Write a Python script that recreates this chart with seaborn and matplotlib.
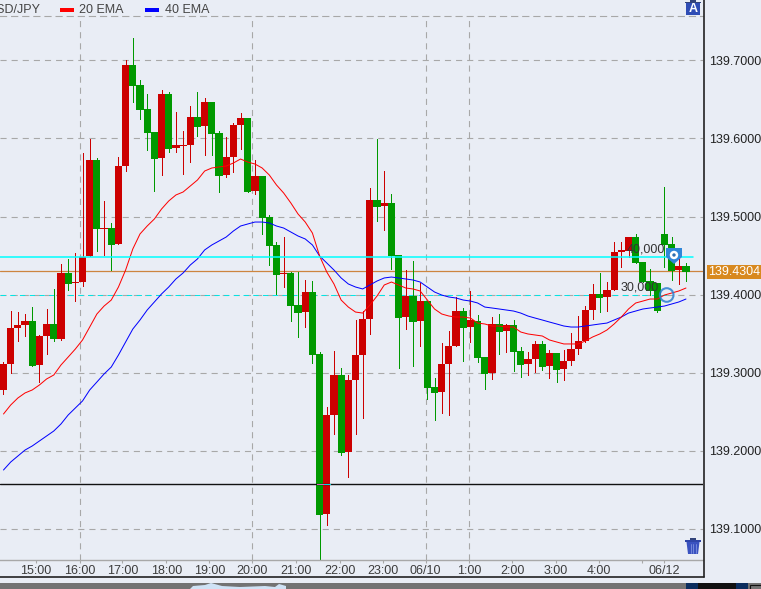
import pandas as pd
import matplotlib
matplotlib.use("Agg")
import matplotlib.pyplot as plt
from matplotlib.patches import Circle, Polygon, Rectangle
import seaborn as sns

# --- candles, 10 minute bars ---
opens = [139.2776, 139.3109, 139.3570, 139.3609, 139.3660, 139.3096, 139.3468, 139.3622, 139.3430, 139.4276,
         139.4148, 139.4160, 139.4494, 139.5724, 139.4840, 139.4852, 139.4648, 139.5647, 139.6942, 139.6686,
         139.6379, 139.6083, 139.5750, 139.6571, 139.5878, 139.5904, 139.5917, 139.6275, 139.6160, 139.6468,
         139.6070, 139.5532, 139.5763, 139.6173, 139.6262, 139.5327, 139.5519, 139.4993, 139.4635, 139.4263,
         139.4276, 139.3865, 139.3775, 139.4032, 139.3237, 139.1186, 139.2455, 139.2968, 139.1980, 139.2904,
         139.3224, 139.3685, 139.5212, 139.5135, 139.5173, 139.4507, 139.3711, 139.3981, 139.3660, 139.3916,
         139.2814, 139.2750, 139.3109, 139.3340, 139.3788, 139.3583, 139.3660, 139.3198, 139.2994, 139.3622,
         139.3532, 139.3609, 139.3275, 139.3109, 139.3173, 139.3366, 139.3083, 139.3250, 139.3045, 139.3147,
         139.3301, 139.3404, 139.3801, 139.4007, 139.3968, 139.4058, 139.4545, 139.4558, 139.4737, 139.4417,
         139.4173, 139.4148, 139.4776, 139.4648, 139.4314, 139.4365]
highs = [139.3134, 139.3788, 139.3775, 139.3750, 139.3839, 139.3481, 139.3814, 139.4071, 139.4391, 139.4456,
         139.4533, 139.5815, 139.5994, 139.5750, 139.5199, 139.4917, 139.5763, 139.7006, 139.7288, 139.6750,
         139.6571, 139.6083, 139.6622, 139.6596, 139.6340, 139.6096, 139.6416, 139.6596, 139.6519, 139.6468,
         139.6096, 139.6019, 139.6199, 139.6327, 139.6262, 139.5724, 139.5519, 139.5019, 139.4673, 139.4737,
         139.4288, 139.4288, 139.4186, 139.4173, 139.3262, 139.2558, 139.3275, 139.3058, 139.2968, 139.3673,
         139.3788, 139.5365, 139.5994, 139.5583, 139.5289, 139.4507, 139.4314, 139.4429, 139.4148, 139.3916,
         139.2929, 139.3378, 139.3532, 139.3968, 139.3827, 139.4045, 139.3737, 139.3198, 139.3711, 139.3750,
         139.3622, 139.3673, 139.3327, 139.3262, 139.3404, 139.3404, 139.3288, 139.3250, 139.3288, 139.3506,
         139.3724, 139.3852, 139.4135, 139.4276, 139.4160, 139.4673, 139.4673, 139.4737, 139.4776, 139.4417,
         139.4327, 139.4148, 139.5378, 139.4737, 139.4468, 139.4404]
lows = [139.2725, 139.2994, 139.3404, 139.3468, 139.3083, 139.2878, 139.3237, 139.3404, 139.3417, 139.4058,
        139.3916, 139.4109, 139.4494, 139.4558, 139.4507, 139.4314, 139.4648, 139.5583, 139.6468, 139.6250,
        139.5853, 139.5327, 139.5532, 139.5827, 139.5827, 139.5545, 139.5698, 139.6032, 139.5789, 139.5789,
        139.5314, 139.5506, 139.5570, 139.5866, 139.5314, 139.5289, 139.4776, 139.4378, 139.4007, 139.4096,
        139.3660, 139.3455, 139.3583, 139.3122, 139.0609, 139.1045, 139.2212, 139.1942, 139.1660, 139.2212,
        139.2417, 139.3494, 139.4942, 139.4827, 139.4327, 139.3058, 139.3557, 139.3083, 139.3340, 139.2660,
        139.2391, 139.2481, 139.2455, 139.3340, 139.3147, 139.3391, 139.3134, 139.2788, 139.2917, 139.3237,
        139.3262, 139.3019, 139.2942, 139.2968, 139.3006, 139.3032, 139.2929, 139.2878, 139.2904, 139.3096,
        139.3237, 139.3391, 139.3685, 139.3775, 139.3788, 139.4058, 139.4353, 139.4481, 139.4404, 139.4160,
        139.3993, 139.3775, 139.4353, 139.4186, 139.4135, 139.4173]
closes = [139.3109, 139.3570, 139.3609, 139.3660, 139.3083, 139.3468, 139.3622, 139.3430, 139.4276, 139.4135,
          139.4160, 139.4481, 139.5724, 139.4840, 139.4852, 139.4635, 139.5647, 139.6942, 139.6673, 139.6365,
          139.6070, 139.5738, 139.6571, 139.5866, 139.5917, 139.5917, 139.6275, 139.6147, 139.6468, 139.6058,
          139.5519, 139.5763, 139.6173, 139.6262, 139.5314, 139.5519, 139.4980, 139.4622, 139.4250, 139.4276,
          139.3852, 139.3762, 139.4032, 139.3224, 139.1173, 139.2455, 139.2968, 139.1968, 139.2904, 139.3224,
          139.3685, 139.5212, 139.5122, 139.5173, 139.4494, 139.3698, 139.3981, 139.3647, 139.3916, 139.2801,
          139.2737, 139.3109, 139.3340, 139.3788, 139.3570, 139.3673, 139.3186, 139.2981, 139.3622, 139.3519,
          139.3609, 139.3262, 139.3096, 139.3173, 139.3366, 139.3070, 139.3250, 139.3032, 139.3147, 139.3301,
          139.3404, 139.3801, 139.4007, 139.3955, 139.4058, 139.4545, 139.4571, 139.4737, 139.4404, 139.4160,
          139.4045, 139.3788, 139.4635, 139.4301, 139.4365, 139.4288]

ema20 = [139.2468, 139.2583, 139.2673, 139.2738, 139.2776, 139.2840, 139.2917, 139.2968, 139.3096, 139.3198,
         139.3301, 139.3417, 139.3583, 139.3750, 139.3852, 139.3929, 139.4096, 139.4314, 139.4584, 139.4776,
         139.4878, 139.4968, 139.5096, 139.5199, 139.5276, 139.5314, 139.5391, 139.5468, 139.5583, 139.5622,
         139.5635, 139.5647, 139.5686, 139.5737, 139.5698, 139.5673, 139.5622, 139.5532, 139.5404, 139.5301,
         139.5173, 139.5032, 139.4929, 139.4788, 139.4494, 139.4288, 139.4135, 139.3929, 139.3839, 139.3775,
         139.3762, 139.3865, 139.3981, 139.4122, 139.4160, 139.4122, 139.4083, 139.4071, 139.4045, 139.3929,
         139.3814, 139.3750, 139.3724, 139.3711, 139.3711, 139.3698, 139.3634, 139.3622, 139.3596, 139.3596,
         139.3583, 139.3583, 139.3519, 139.3494, 139.3481, 139.3468, 139.3417, 139.3391, 139.3366, 139.3366,
         139.3366, 139.3404, 139.3455, 139.3494, 139.3545, 139.3622, 139.3711, 139.3814, 139.3891, 139.3916,
         139.3942, 139.3942, 139.3993, 139.4019, 139.4045, 139.4083]
ema40 = [139.1750, 139.1852, 139.1929, 139.2006, 139.2058, 139.2122, 139.2186, 139.2250, 139.2340, 139.2455,
         139.2545, 139.2635, 139.2776, 139.2878, 139.2981, 139.3070, 139.3224, 139.3391, 139.3557, 139.3673,
         139.3801, 139.3904, 139.4007, 139.4096, 139.4199, 139.4276, 139.4378, 139.4456, 139.4571, 139.4635,
         139.4686, 139.4737, 139.4814, 139.4878, 139.4904, 139.4929, 139.4929, 139.4917, 139.4878, 139.4852,
         139.4801, 139.4750, 139.4712, 139.4635, 139.4494, 139.4404, 139.4314, 139.4212, 139.4135, 139.4096,
         139.4071, 139.4122, 139.4173, 139.4212, 139.4224, 139.4212, 139.4199, 139.4186, 139.4160, 139.4096,
         139.4032, 139.3993, 139.3968, 139.3955, 139.3929, 139.3916, 139.3891, 139.3839, 139.3827, 139.3814,
         139.3801, 139.3788, 139.3762, 139.3724, 139.3698, 139.3673, 139.3647, 139.3622, 139.3596, 139.3583,
         139.3583, 139.3596, 139.3609, 139.3622, 139.3634, 139.3673, 139.3711, 139.3762, 139.3788, 139.3814,
         139.3827, 139.3839, 139.3852, 139.3878, 139.3904, 139.3942]

# tick positions are in bar numbers
tick_pos = [4.52, 10.58, 16.54, 22.66, 28.65, 34.66, 40.76, 46.8, 52.83, 58.77, 64.84, 70.85, 76.87, 82.93, 88.9, 91.94]
tick_labels = ["15:00", "16:00", "17:00", "18:00", "19:00", "20:00", "21:00", "22:00", "23:00",
               "06/10", "1:00", "2:00", "3:00", "4:00", "", "06/12"]
vgrid_pos = [10.58, 34.66, 58.77, 64.84]
price_ticks = [139.1, 139.2, 139.3, 139.4, 139.5, 139.6, 139.7]
level_cyan = 139.4485
level_cyan_dash = 139.399
level_last = 139.4304
level_black = 139.1567
last_label = "139.4304"

BG = "#e9edf5"
RED = "#cc0000"
GREEN = "#009900"

df = pd.DataFrame({"bar": range(len(opens)), "open": opens, "high": highs, "low": lows, "close": closes,
                   "ema20": ema20, "ema40": ema40})
df["up"] = df["close"] >= df["open"]
df["body_low"] = df[["open", "close"]].min(axis=1)
df["body_h"] = (df["close"] - df["open"]).abs()

sns.set_theme(style="white", rc={"figure.facecolor": BG, "axes.facecolor": BG})
plt.rcParams["font.family"] = ["Liberation Sans", "DejaVu Sans"]

W, H = 761, 589
fig = plt.figure(figsize=(W / 100, H / 100), dpi=100)
ax = fig.add_axes([0, (H - 559.5) / H, 703 / W, (559.5 - 16) / H])

dash = (0, (5.5, 4.5))
for p in price_ticks:
    ax.axhline(p, color="#a8a8a8", lw=0.8, ls=dash, zorder=1)
for v in vgrid_pos:
    ax.axvline(v, color="#a8a8a8", lw=0.8, ls=dash, zorder=1)

ax.axhline(level_last, color="#cd853f", lw=0.9, zorder=1.5)
ax.axhline(level_cyan_dash, xmax=670 / 703, color="#00e5e5", lw=0.7, ls=dash, zorder=1.5)

# wicks then bodies
ax.vlines(df["bar"], df["low"], df["high"], colors=[RED if u else GREEN for u in df["up"]],
          lw=0.72, zorder=2, antialiased=False)
for up, color in [(True, RED), (False, GREEN)]:
    part = df[df["up"] == up]
    sns.barplot(data=part, x="bar", y="body_h", bottom=part["body_low"].values, native_scale=True,
                color=color, saturation=1, width=1.0, errorbar=None, linewidth=0, zorder=2.5, ax=ax)

sns.lineplot(data=df, x="bar", y="ema40", color="#0000ff", linewidth=0.72, zorder=3, ax=ax)
sns.lineplot(data=df, x="bar", y="ema20", color="#ff0000", linewidth=0.72, zorder=3, ax=ax)
for line in ax.lines[-2:]:
    line.set_linewidth(0.72)

ax.axhline(level_cyan, xmax=693 / 703, color="#00ffff", lw=1.1, zorder=4)
ax.axhline(level_black, color="#111111", lw=1.0, zorder=4)

ax.set_xlim(-0.487, 97.37)
ax.set_ylim(139.06026, 139.75705)
ax.set_xlabel("")
ax.set_ylabel("")
ax.set_xticks(tick_pos)
ax.set_xticklabels(tick_labels)
ax.tick_params(axis="x", bottom=True, length=2, width=0.8, color="#a8a8a8", pad=2, labelsize=9, labelcolor="#3c3c3c")
ax.yaxis.tick_right()
ax.set_yticks(price_ticks)
ax.set_yticklabels([f"{p:.4f}" for p in price_ticks])
ax.tick_params(axis="y", right=False, length=0, pad=4.5, labelsize=9, labelcolor="#222222")
ax.spines["left"].set_visible(False)
ax.spines["right"].set_visible(False)
ax.spines["bottom"].set_color("#a8a8a8")
ax.spines["bottom"].set_linewidth(1.0)
ax.spines["top"].set_color("#a8a8a8")
ax.spines["top"].set_linewidth(0.8)
ax.spines["top"].set_linestyle(dash)

# --- screen furniture on an overlay in pixels ---
ov = fig.add_axes([0, 0, 1, 1], zorder=5)
ov.set_xlim(0, W)
ov.set_ylim(H, 0)
ov.axis("off")

ov.plot([703.5, 703.5], [0, 576.5], color="#222222", lw=1.2)
ov.plot([0, 703.5], [576.5, 576.5], color="#222222", lw=1.2)
ov.add_patch(Rectangle((317, 483.7), 7, 1.2, color="#e060c0", lw=0))
ov.add_patch(Rectangle((324, 483.7), 7, 1.2, color="#00dddd", lw=0))

# legend row
ov.text(-13, 10, "USD/JPY", fontsize=9, color="#444444", va="center", ha="left", clip_on=True)
ov.add_patch(Rectangle((60, 8), 14, 4, color="#ff0000", lw=0))
ov.text(79, 10, "20 EMA", fontsize=9, color="#444444", va="center", ha="left")
ov.add_patch(Rectangle((145, 8), 14, 4, color="#0000ff", lw=0))
ov.text(165, 10, "40 EMA", fontsize=9, color="#444444", va="center", ha="left")

# last price tag
ov.add_patch(Rectangle((707, 265), 54, 13.5, color="#d8891f", lw=0))
ov.text(734, 271.8, last_label, fontsize=9, color="white", va="center", ha="center")

# order labels
ov.text(627, 249, "40,000", fontsize=9, color="#333333", va="center", ha="left")
ov.text(620.5, 288, "30,000", fontsize=9, color="#333333", va="center", ha="left")

# pin and ring
ov.add_patch(Polygon([(666, 248), (682, 248), (682, 257), (674, 264), (666, 257)], color="#2f86d9", lw=0))
ov.add_patch(Circle((674, 255), 4.2, color="white", lw=0))
ov.add_patch(Circle((674, 255), 1.7, color="#2f6fb0", lw=0))
ov.add_patch(Circle((666.7, 295), 6.8, fill=False, edgecolor="#2a7fd0", lw=1.5, alpha=0.85))

# A button
ov.add_patch(Rectangle((690, 0), 6, 2, color="#33447a", lw=0))
ov.add_patch(Rectangle((685, 1.5), 16, 1.5, color="#33447a", lw=0))
ov.add_patch(Rectangle((686, 3), 14, 12, color="#2f4db5", lw=0))
ov.text(693, 9.5, "A", fontsize=9, fontweight="bold", color="white", va="center", ha="center")

# trash button
ov.add_patch(Rectangle((690, 538), 6, 2, color="#33447a", lw=0))
ov.add_patch(Rectangle((685, 540), 16, 2.2, color="#2f45a8", lw=0))
ov.add_patch(Polygon([(686.5, 542), (699.5, 542), (698, 554), (688, 554)], color="#3a52c0", lw=0))
for sx in (690.5, 693, 695.5):
    ov.plot([sx, sx], [544, 552.5], color="#7f92e0", lw=0.6)

# bottom strip
ov.add_patch(Rectangle((0, 582.7), 686, 7, color="#737373", lw=0))
ov.add_patch(Polygon([(190, 589), (193, 586), (205, 585), (211, 583), (222, 586), (240, 587), (265, 586),
                      (275, 587), (279, 584), (286, 586), (286, 589)], color="#cfe2f5", lw=0))
ov.add_patch(Rectangle((686, 582.7), 12, 7, color="#0b2d5e", lw=0))
ov.add_patch(Rectangle((698, 582.7), 38, 7, color="#111111", lw=0))
ov.add_patch(Rectangle((736, 582.7), 12, 7, color="#0b2d5e", lw=0))
ov.add_patch(Rectangle((748, 582.7), 13, 7, color="#737373", lw=0))
ov.add_patch(Rectangle((750, 585), 12, 5, fill=False, edgecolor="#111111", lw=0.8))

fig.savefig("out.png", dpi=100, facecolor=BG)
